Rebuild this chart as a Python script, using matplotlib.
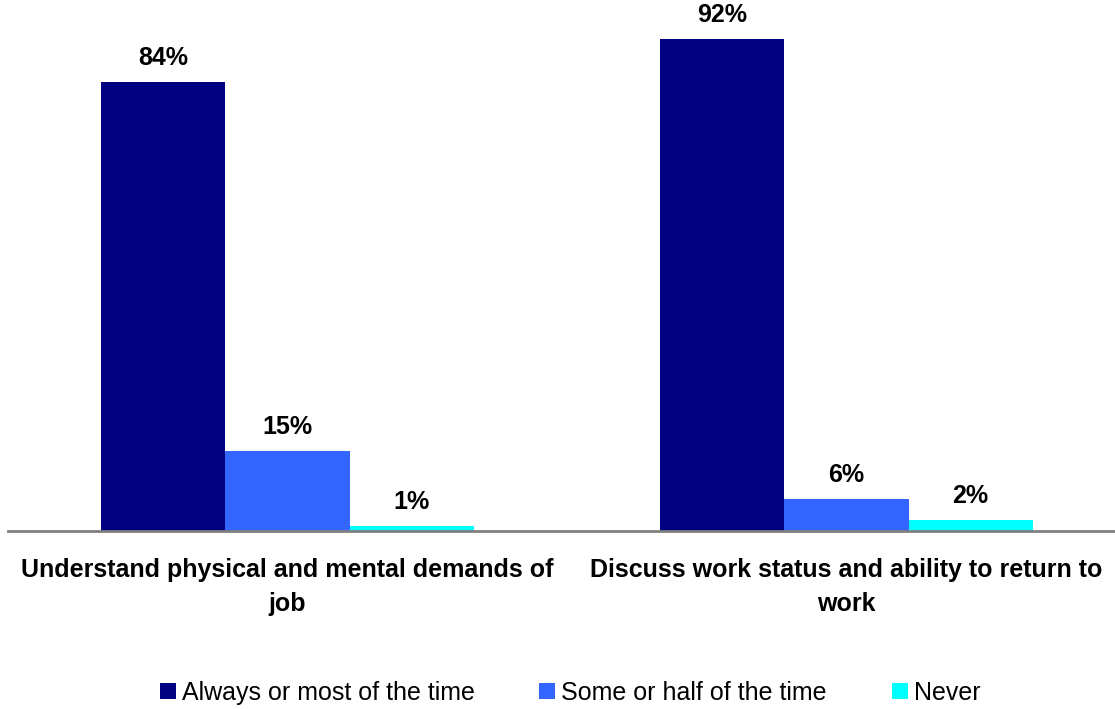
import matplotlib
matplotlib.use("Agg")
import matplotlib.pyplot as plt
from matplotlib.patches import Patch
import numpy as np

plt.rcParams['font.family'] = ['Liberation Sans', 'DejaVu Sans']

categories = ["Understand physical and mental demands of\njob",
              "Discuss work status and ability to return to\nwork"]
series_names = ["Always or most of the time", "Some or half of the time", "Never"]
always = [84, 92]
some = [15, 6]
never = [1, 2]
colors = ["#000080", "#3366FF", "#00FFFF"]

W, H = 1115, 709
fig = plt.figure(figsize=(W / 100, H / 100), dpi=100)
ax_left, ax_right = 8, 1126
base_y = 531
ax = fig.add_axes([ax_left / W, (H - base_y) / H, (ax_right - ax_left) / W, base_y / H])

x = np.arange(len(categories))
bw = 0.222
values = [always, some, never]
for i, (vals, c) in enumerate(zip(values, colors)):
    pos = x + (i - 1) * bw
    ax.bar(pos, vals, width=bw, color=c, edgecolor='none')
    for p, v in zip(pos, vals):
        ax.annotate(f"{v}%", xy=(p, v), xytext=(0, 12.2), textcoords='offset points',
                    ha='center', va='baseline', fontsize=18, fontweight='bold',
                    color='black')

ax.set_xlim(-0.5, 1.5)
ax.set_ylim(0, base_y / 5.345)
for s in ['top', 'right', 'left']:
    ax.spines[s].set_visible(False)
ax.spines['bottom'].set_color('#808080')
ax.spines['bottom'].set_linewidth(2)
ax.set_yticks([])
ax.set_xticks([])

# category names under each group
for xi, name in zip(x, categories):
    ax.annotate(name, xy=(xi, 0), xycoords=('data', 'axes fraction'),
                xytext=(0, -19.5), textcoords='offset points',
                ha='center', va='top', fontsize=18, fontweight='bold',
                linespacing=1.52, color='black')

handles = [Patch(facecolor=c, edgecolor='none') for c in colors]
fig.legend(handles, series_names, loc='center', bbox_to_anchor=(570 / W, (H - 693) / H),
           ncol=3, frameon=False, fontsize=18, handlelength=0.64, handleheight=0.64,
           handletextpad=0.24, columnspacing=2.6, borderaxespad=0, borderpad=0)

fig.savefig("out.png", dpi=100)
